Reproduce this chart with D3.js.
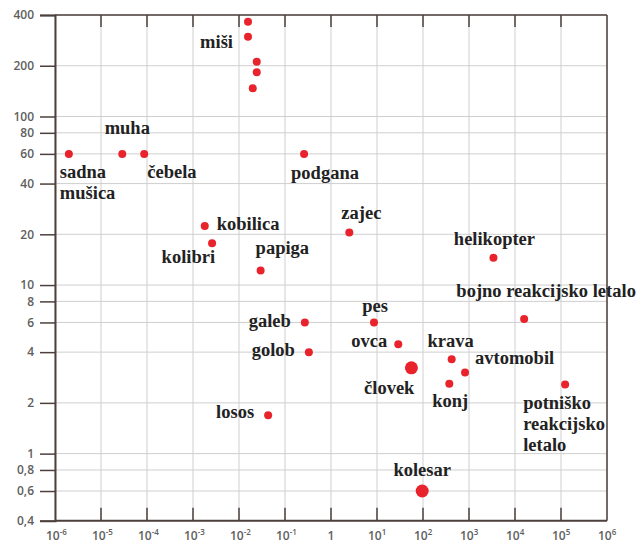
<!DOCTYPE html>
<html lang="sl">
<head>
  <meta charset="UTF-8">
  <title>Hitrost in masa</title>
  <script src="https://d3js.org/d3.v7.min.js"></script>
  <style>
    body { margin: 0; background: #fff; }
    svg { display: block; }
    .tick-label { font-family: "Open Sans", sans-serif; font-size: 12px; font-weight: 600; fill: #5e5e5e; }
    .name { font-family: "Liberation Serif", serif; font-weight: bold; font-size: 18.5px; fill: #222; }
  </style>
</head>
<body>
  <svg id="chart"></svg>
  <script>
    // names, mass (x) and speed (y)
    const names = ["sadna mušica", "muha", "čebela", "miši", "miši", "miši", "miši", "miši",
      "podgana", "kobilica", "kolibri", "papiga", "zajec", "helikopter", "galeb", "golob",
      "losos", "pes", "ovca", "človek", "krava", "avtomobil", "konj",
      "bojno reakcijsko letalo", "potniško reakcijsko letalo", "kolesar"];
    const masses = [2e-6, 2.9e-5, 8.7e-5, 0.0157, 0.0157, 0.0243, 0.0243, 0.0199,
      0.26, 0.0018, 0.0026, 0.0295, 2.5, 3400, 0.27, 0.33,
      0.043, 8.6, 29, 56, 420, 820, 373,
      15800, 123000, 96];
    const speeds = [60, 60, 60, 365, 297, 211, 183, 147,
      60, 22.4, 17.7, 12.2, 20.5, 14.5, 6, 4,
      1.69, 6, 4.46, 3.23, 3.63, 3.03, 2.6,
      6.28, 2.57, 0.6];
    const bigDots = ["človek", "kolesar"];

    const xExponents = d3.range(-6, 7);
    const yTicks = [400, 200, 100, 80, 60, 40, 20, 10, 8, 6, 4, 2, 1, 0.8, 0.6, 0.4];

    // label placement relative to its point: dx, dy, anchor, which point of the name
    const labelPos = {
      "sadna mušica": [-9, 24, "start"],
      "muha": [5, -20, "middle"],
      "čebela": [3, 24, "start"],
      "miši": [-15, 11, "end", 1],
      "podgana": [-13, 25, "start"],
      "kobilica": [12, 4, "start"],
      "kolibri": [3, 20, "end"],
      "papiga": [-5, -16, "start"],
      "zajec": [-8, -14, "start"],
      "helikopter": [1, -13, "middle"],
      "galeb": [-14, 5, "end"],
      "golob": [-14, 4, "end"],
      "losos": [-14, 3, "end"],
      "pes": [1, -10, "middle"],
      "ovca": [-11, 3, "end"],
      "človek": [3, 26, "end"],
      "krava": [-1, -12, "middle"],
      "avtomobil": [10, -8, "start"],
      "konj": [1, 23, "middle"],
      "bojno reakcijsko letalo": [22, -22, "middle"],
      "potniško reakcijsko letalo": [-42, 24, "start"],
      "kolesar": [0, -15, "middle"]
    };
    const wrapped = { "sadna mušica": ["sadna", "mušica"], "potniško reakcijsko letalo": ["potniško", "reakcijsko", "letalo"] };

    const width = 641, height = 546;
    const mLeft = 55, mRight = 607, mTop = 15, mBottom = 520.7;
    const axisColor = "#4d403c";

    const svg = d3.select("#chart").attr("width", width).attr("height", height);

    const x = d3.scaleLog().domain([1e-6, 1e6]).range([mLeft, mRight]);
    const y = d3.scaleLog().domain([0.4, 400]).range([mBottom, mTop]);

    // grid
    svg.append("g").selectAll("line").data(xExponents).join("line")
      .attr("x1", d => x(Math.pow(10, d))).attr("x2", d => x(Math.pow(10, d)))
      .attr("y1", mTop).attr("y2", mBottom)
      .attr("stroke", "#cfcfcf").attr("stroke-width", 1);
    svg.append("g").selectAll("line").data(yTicks).join("line")
      .attr("x1", mLeft).attr("x2", mRight)
      .attr("y1", d => y(d)).attr("y2", d => y(d))
      .attr("stroke", "#cfcfcf").attr("stroke-width", 1);

    // frame
    svg.append("line").attr("x1", mLeft).attr("x2", mRight).attr("y1", mTop).attr("y2", mTop)
      .attr("stroke", axisColor).attr("stroke-width", 1.5);
    svg.append("line").attr("x1", mRight).attr("x2", mRight).attr("y1", mTop).attr("y2", mBottom)
      .attr("stroke", axisColor).attr("stroke-width", 1.5);

    // y axis
    const yAxis = d3.axisLeft(y).tickValues(yTicks).tickSize(15).tickPadding(6)
      .tickFormat(d => String(d).replace(".", ","));
    const gy = svg.append("g").attr("transform", `translate(${mLeft},0)`).call(yAxis);
    gy.select(".domain").attr("stroke", axisColor).attr("stroke-width", 2);
    gy.selectAll(".tick line").attr("stroke", axisColor).attr("stroke-width", 1.5);
    gy.selectAll(".tick text").attr("class", "tick-label");
    gy.attr("font-family", null).attr("font-size", null);

    // x axis: ticks point inward, top and bottom
    const gx = svg.append("g");
    gx.append("line").attr("x1", mLeft).attr("x2", mRight).attr("y1", mBottom).attr("y2", mBottom)
      .attr("stroke", axisColor).attr("stroke-width", 2);
    const innerTicks = xExponents.filter(d => d > -6 && d < 6);
    gx.selectAll(".bt").data(innerTicks).join("line").attr("class", "bt")
      .attr("x1", d => x(Math.pow(10, d))).attr("x2", d => x(Math.pow(10, d)))
      .attr("y1", mBottom).attr("y2", mBottom - 13)
      .attr("stroke", axisColor).attr("stroke-width", 1.5);
    gx.selectAll(".tt").data(innerTicks).join("line").attr("class", "tt")
      .attr("x1", d => x(Math.pow(10, d))).attr("x2", d => x(Math.pow(10, d)))
      .attr("y1", mTop).attr("y2", mTop + 12)
      .attr("stroke", axisColor).attr("stroke-width", 1.5);

    const xl = gx.selectAll("text").data(xExponents).join("text")
      .attr("class", "tick-label")
      .attr("x", d => d === 0 ? x(1) : x(Math.pow(10, d)) - 9)
      .attr("y", 540)
      .attr("text-anchor", d => d === 0 ? "middle" : "start");
    xl.append("tspan").text(d => d === 0 ? "1" : "10");
    xl.filter(d => d !== 0).append("tspan")
      .attr("dy", -5).attr("font-size", "8px")
      .text(d => String(d));

    // points
    const points = names.map((n, i) => ({ name: n, m: masses[i], v: speeds[i] }));
    svg.append("g").selectAll("circle").data(points).join("circle")
      .attr("cx", d => x(d.m)).attr("cy", d => y(d.v))
      .attr("r", d => bigDots.includes(d.name) ? 6.5 : 4)
      .attr("fill", "#e8232c");

    // labels, one per name
    const labelled = points.filter(p => {
      const pos = labelPos[p.name];
      if (!pos) return false;
      const same = points.filter(q => q.name === p.name);
      return same[pos[3] || 0] === p;
    });
    labelled.forEach(p => {
      const [dx, dy, anchor] = labelPos[p.name];
      const lines = wrapped[p.name] || [p.name];
      const t = svg.append("text").attr("class", "name")
        .attr("x", x(p.m) + dx).attr("y", y(p.v) + dy)
        .attr("text-anchor", anchor);
      lines.forEach((l, k) => {
        t.append("tspan").attr("x", x(p.m) + dx).attr("dy", k === 0 ? 0 : 21).text(l);
      });
    });
  </script>
</body>
</html>
